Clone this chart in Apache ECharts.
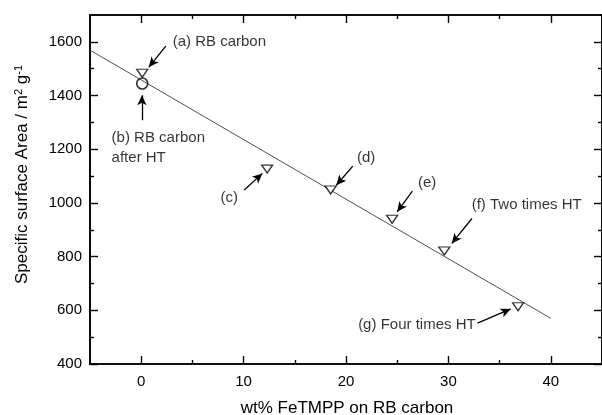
<!DOCTYPE html>
<html>
<head>
<meta charset="utf-8">
<script src="https://cdn.jsdelivr.net/npm/echarts@6/dist/echarts.min.js"></script>
<style>
html,body{margin:0;padding:0;background:#fff;}
#main{width:602px;height:415px;}
</style>
</head>
<body>
<div id="main"></div>
<script>
// data
var sampleX = [0.1, 12.3, 18.5, 24.5, 29.6, 36.8];     // wt% FeTMPP
var sampleY = [1483, 1126, 1048, 939, 821, 613];        // m2/g
var htX = [0.1];                                        // (b) RB carbon after HT
var htY = [1445];
var fitX = [-5, 40];
var fitY = [1569, 570];

var xMajor = [0, 10, 20, 30, 40];
var xMinor = [5, 15, 25, 35];
var yMajor = [400, 600, 800, 1000, 1200, 1400, 1600];
var yMinor = [500, 700, 900, 1100, 1300, 1500];

// annotation texts: [x, y, text, side]
var noteText = [
  [3.07, 1599, '(a) RB carbon', 'right'],
  [-2.89, 1204, '(b) RB carbon\nafter HT', 'right'],
  [8.6, 1018, '(c)', 'inside'],
  [21.96, 1166, '(d)', 'inside'],
  [27.93, 1073, '(e)', 'inside'],
  [32.27, 992, '(f) Two times HT', 'right'],
  [32.66, 545, '(g) Four times HT', 'left']
];
// arrows: [tailX, tailY, tipX, tipY]
var noteArrows = [
  [2.40, 1584, 0.75, 1506],
  [0.07, 1308, 0.07, 1401],
  [10.06, 1048, 11.83, 1110],
  [20.66, 1137, 19.05, 1066],
  [26.48, 1044, 25.0, 967],
  [32.3, 942, 30.33, 849],
  [32.85, 552, 36.08, 605]
];

(function(){
  var chart = echarts.init(document.getElementById('main'));
  var font = "'Liberation Sans', Arial, sans-serif";
  var black = '#000';

  function zip(a, b){
    var out = [];
    for (var i = 0; i < a.length; i++) out.push([a[i], b[i]]);
    return out;
  }
  function plain(v){ return String(v); }

  function xAxisDef(pos, ticks, len, labels){
    return {
      type: 'value', position: pos, min: -5, max: 45,
      axisLine: {show: true, onZero: false, lineStyle: {color: black, width: 1.6}},
      axisTick: {show: true, inside: true, length: len, customValues: ticks, lineStyle: {color: black, width: 1.4}},
      axisLabel: {show: labels, customValues: ticks, margin: 10, color: black, fontSize: 15, fontFamily: font, formatter: plain},
      splitLine: {show: false}
    };
  }
  function yAxisDef(pos, ticks, len, labels){
    return {
      type: 'value', position: pos, min: 400, max: 1700,
      axisLine: {show: true, onZero: false, lineStyle: {color: black, width: 1.6}},
      axisTick: {show: true, inside: true, length: len, customValues: ticks, lineStyle: {color: black, width: 1.4}},
      axisLabel: {show: labels, customValues: ticks, margin: 8, color: black, fontSize: 15, fontFamily: font, formatter: plain},
      splitLine: {show: false}
    };
  }

  var yl = yAxisDef('left', yMajor, 8, true);
  yl.name = 'Specific surface Area / m{sup|2} g{sup|-1}';
  yl.nameLocation = 'middle';
  yl.nameGap = 58;
  yl.nameTextStyle = {color: black, fontSize: 17, fontFamily: font, padding: [0, 0, 0, 30],
    rich: {sup: {fontSize: 11, verticalAlign: 'top', color: black, fontFamily: font, padding: [0, 0, 8, 0]}}};

  var arrowLines = noteArrows.map(function(a){
    return [{coord: [a[0], a[1]]}, {coord: [a[2], a[3]]}];
  });

  var labelData = noteText.map(function(n){
    return {
      value: [n[0], n[1]],
      label: {show: true, position: n[3], distance: 0, formatter: n[2],
        color: black, fontSize: 15, fontFamily: font, lineHeight: 20, align: n[3] === 'right' ? 'left' : (n[3] === 'left' ? 'right' : 'center')}
    };
  });

  var option = {
    animation: false,
    backgroundColor: '#fff',
    title: {
      text: 'wt% FeTMPP on RB carbon', left: 347, top: 400, textAlign: 'center', padding: 0,
      textStyle: {color: black, fontSize: 17, fontWeight: 'normal', fontFamily: font}
    },
    grid: {left: 90, top: 15, width: 515, height: 349},
    xAxis: [
      xAxisDef('bottom', xMajor, 8, true),
      xAxisDef('bottom', xMinor, 4, false),
      xAxisDef('top', xMajor, 8, false),
      xAxisDef('top', xMinor, 4, false)
    ],
    yAxis: [
      yl,
      yAxisDef('left', yMinor, 4, false),
      yAxisDef('right', yMajor, 8, false),
      yAxisDef('right', yMinor, 4, false)
    ],
    series: [
      {
        type: 'line', data: zip(fitX, fitY), symbol: 'none', silent: true,
        lineStyle: {color: '#222', width: 0.8}
      },
      {
        type: 'scatter', data: zip(sampleX, sampleY), symbol: 'triangle', symbolRotate: 180,
        symbolSize: [11, 8],
        itemStyle: {color: '#fff', borderColor: black, borderWidth: 1.3}, z: 5
      },
      {
        type: 'scatter', data: zip(htX, htY), symbol: 'circle', symbolSize: 11,
        itemStyle: {color: 'rgba(255,255,255,0)', borderColor: black, borderWidth: 1.6}, z: 5
      },
      {
        type: 'scatter', data: labelData, symbolSize: 0, silent: true,
        markLine: {
          silent: true, symbol: ['none', 'arrow'], symbolSize: [7, 10],
          label: {show: false},
          lineStyle: {color: black, width: 1.3, type: 'solid'},
          data: arrowLines
        }
      }
    ]
  };
  chart.setOption(option);
})();
</script>
</body>
</html>
